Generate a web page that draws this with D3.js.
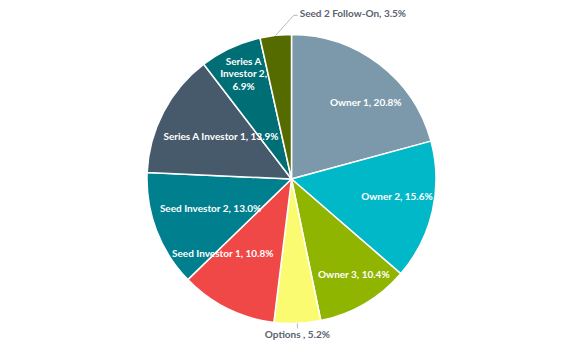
<!DOCTYPE html>
<html>
<head>
<meta charset="utf-8">
<script src="https://cdn.jsdelivr.net/npm/d3@7"></script>
<style>
  body { margin: 0; background: #fff; }
  svg { display: block; }
</style>
</head>
<body>
<div id="chart"></div>
<script>
// data
var categories = ["Owner 1", "Owner 2", "Owner 3", "Options ", "Seed Investor 1",
                  "Seed Investor 2", "Series A Investor 1", "Series A Investor 2", "Seed 2 Follow-On"];
var shares = [20.8, 15.6, 10.4, 5.2, 10.8, 13.0, 13.9, 6.9, 3.5];
var colors = ["#7b99ab", "#00b8c8", "#8fb500", "#fbfb72", "#f04747",
              "#00808f", "#475a6b", "#006e75", "#556b00"];

// label layout: radius factor and angle nudge (degrees), null = outside with leader
var labelLayout = [
  [0.74, 6.6], [0.74, -3.3], [0.79, -2.7], null, [0.70, 16.4],
  [0.595, 1], [0.57, 3.5], [0.80, 0.5], null
];

var width = 584, height = 351;
var cx = 291.5, cy = 179, radius = 144.5;

var svg = d3.select("#chart")
  .append("svg")
    .attr("width", width)
    .attr("height", height)
  .append("g")
    .attr("transform", "translate(" + cx + "," + cy + ")");

var data = categories.map(function(c, i) { return {name: c, value: shares[i], i: i}; });

var pie = d3.pie().sort(null).value(d => d.value);
var arc = d3.arc().innerRadius(0).outerRadius(radius);
var arcs = pie(data);

svg.append("g")
  .selectAll("path")
  .data(arcs)
  .join("path")
    .attr("d", arc)
    .attr("fill", d => colors[d.data.i])
    .attr("stroke", "#fff")
    .attr("stroke-width", 1.5)
    .attr("stroke-linejoin", "round");

function polar(a, r) { return [r * Math.sin(a), -r * Math.cos(a)]; }

// inside labels
var inside = svg.append("g")
  .attr("font-family", "Lato, sans-serif")
  .attr("font-weight", "bold")
  .attr("font-size", 10)
  .attr("fill", "#fff")
  .attr("text-anchor", "middle");

arcs.forEach(function(d) {
  var lay = labelLayout[d.data.i];
  if (!lay) return;
  var mid = (d.startAngle + d.endAngle) / 2 + lay[1] * Math.PI / 180;
  var p = polar(mid, radius * lay[0]);
  var label = d.data.name + ", " + d.data.value.toFixed(1) + "%";
  var lines = d.data.name == "Series A Investor 2" ? ["Series A", "Investor 2,", d.data.value.toFixed(1) + "%"] : [label];
  var t = inside.append("text")
    .attr("x", p[0])
    .attr("y", p[1] - (lines.length - 1) * 12.5 / 2)
    .attr("dy", "0.35em");
  lines.forEach(function(l, k) {
    t.append("tspan").attr("x", p[0]).attr("dy", k == 0 ? "0.35em" : 12.5).text(l);
  });
  t.attr("dy", null);
});

// outside labels with leader lines
var outside = svg.append("g")
  .attr("font-family", "Lato, sans-serif")
  .attr("font-weight", "bold")
  .attr("font-size", 10)
  .attr("fill", "#5b6270");

arcs.forEach(function(d) {
  if (labelLayout[d.data.i]) return;
  var mid = (d.startAngle + d.endAngle) / 2;
  var p0 = polar(mid, radius);
  var label = d.data.name + ", " + d.data.value.toFixed(1) + "%";
  if (d.data.name == "Seed 2 Follow-On") {
    var p1 = [p0[0] + 18, p0[1] - 20];
    svg.append("polyline")
      .attr("points", [p0, p1, [p1[0] + 4, p1[1]]].map(p => p.join(",")).join(" "))
      .attr("fill", "none").attr("stroke", "#a6a6a6").attr("stroke-width", 0.8);
    outside.append("text")
      .attr("x", p1[0] + 6).attr("y", p1[1] - 2).attr("dy", "0.35em")
      .text(label);
  } else {
    svg.append("line")
      .attr("x1", p0[0]).attr("y1", p0[1]).attr("x2", p0[0]).attr("y2", p0[1] + 5)
      .attr("stroke", "#a6a6a6").attr("stroke-width", 0.8);
    outside.append("text")
      .attr("x", p0[0]).attr("y", p0[1] + 11).attr("dy", "0.35em")
      .attr("text-anchor", "middle")
      .text(label);
  }
});
</script>
</body>
</html>
